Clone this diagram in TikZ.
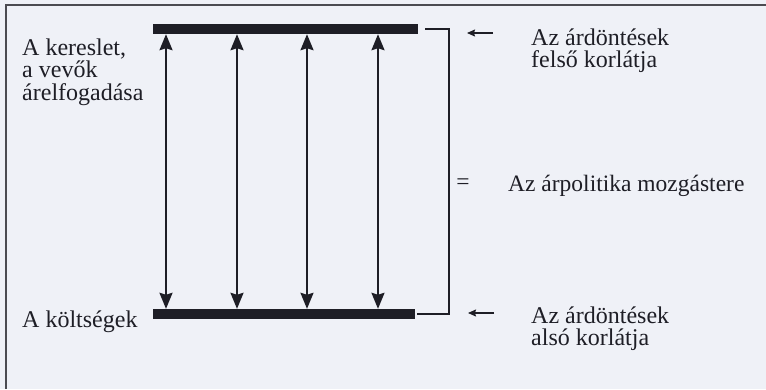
\documentclass[tikz,border=0pt]{standalone}
\usepackage{fontspec}
\setmainfont{Liberation Serif}
\usetikzlibrary{arrows.meta,positioning,calc}
\definecolor{paper}{RGB}{239,241,247}
\definecolor{ink}{RGB}{30,30,38}
\newcommand{\lblfont}{\fontsize{24}{22.6}\selectfont}
\newcommand{\bigfont}{\fontsize{23.5}{26}\selectfont}

\begin{document}
\begin{tikzpicture}[x=1pt, y=-1pt,
    bar/.style={fill=ink, draw=none, inner sep=0pt, minimum height=10pt},
    span/.style={{Stealth[length=16pt,width=13pt,inset=2pt]}-{Stealth[length=16pt,width=13pt,inset=2pt]}, line width=2pt, draw=ink},
    ptr/.style={-{Stealth[length=8pt,width=7pt,inset=1pt]}, line width=1.2pt, draw=ink},
    bracketline/.style={draw=ink, line width=1.6pt},
    lbl/.style={inner sep=0pt, align=left, text=ink, font=\lblfont},
    biglbl/.style={inner sep=0pt, text=ink, font=\bigfont}]

    % page and frame
    \fill[paper] (0,0) rectangle (766,389);
    \useasboundingbox (0,0) rectangle (766,389);
    \draw[ink!80, line width=1.5pt] (6,389) -- (6,5) -- (766,5);

    % upper and lower limits
    \node[bar, minimum width=265pt] (topbar) at (285.5,29) {};
    \node[bar, minimum width=262pt] (lowbar) at (284,314) {};

    % arrows between the limits
    \foreach \x [count=\i] in {166,237,307,378} {
        \coordinate (c\i) at (\x,0);
        \draw[span] (topbar.south -| c\i) -- (lowbar.north -| c\i);
    }

    % bracket on the right
    \coordinate (bend) at (449,170);
    \draw[bracketline] ([xshift=7pt]topbar.east) -| (bend) |- ([xshift=2pt]lowbar.east);

    % left labels
    \node[lbl, anchor=north west] (demand) at (22,38.5) {A kereslet,\\a vevők\\árelfogadása};
    \node[lbl, anchor=base west] (cost) at (22,327) {A költségek};

    % right labels
    \coordinate (uptail) at (493,33);
    \coordinate (uphead) at (467,33);
    \draw[ptr] (uptail) -- (uphead);
    \node[lbl, anchor=north west] (upperlim) at (531,28.5) {Az árdöntések\\felső korlátja};

    \node[biglbl] (eq) at (463,184) {=};
    \node[biglbl, anchor=base west] (range) at (508,191) {Az árpolitika mozgástere};

    \coordinate (lowtail) at (494,313);
    \coordinate (lowhead) at (468,313);
    \draw[ptr] (lowtail) -- (lowhead);
    \node[lbl, anchor=north west] (lowerlim) at (531,306.5) {Az árdöntések\\alsó korlátja};
\end{tikzpicture}
\end{document}
